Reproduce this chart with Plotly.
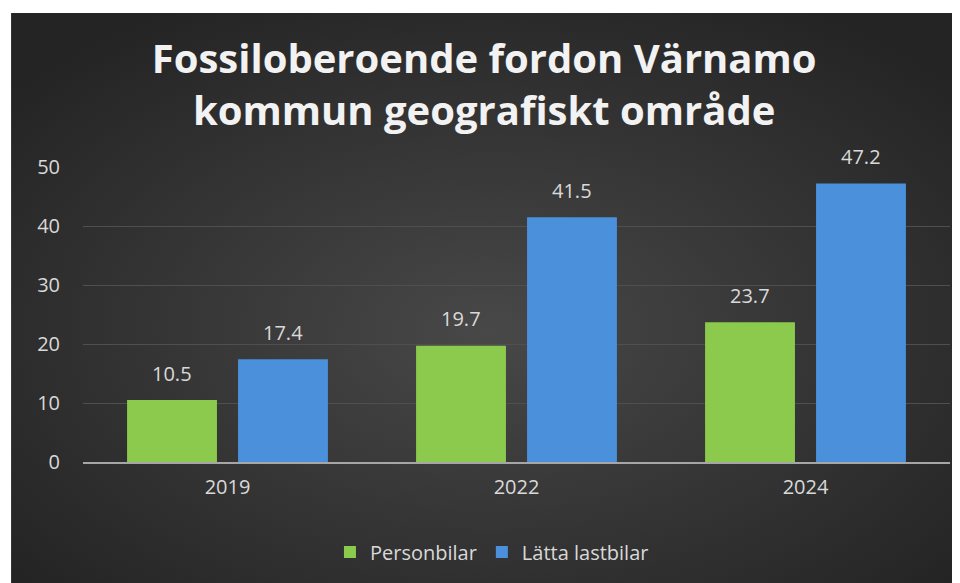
import base64
import plotly.graph_objects as go

years = ["2019", "2022", "2024"]
personbilar = [10.5, 19.7, 23.7]
latta_lastbilar = [17.4, 41.5, 47.2]
y_ticks = [0, 10, 20, 30, 40, 50]

TEXT = "#d9d9d9"
GREEN = "#8cca4e"
BLUE = "#4a90da"

# radial dark background, drawn as an svg image behind the chart
svg = (
    '<svg xmlns="http://www.w3.org/2000/svg" width="957" height="578" preserveAspectRatio="none">'
    '<defs><radialGradient id="g" cx="50%" cy="55%" r="65%">'
    '<stop offset="0" stop-color="#484848"/><stop offset="1" stop-color="#242424"/>'
    '</radialGradient></defs><rect width="957" height="578" fill="url(#g)"/></svg>'
)
bg_src = "data:image/svg+xml;base64," + base64.b64encode(svg.encode()).decode()

fig = go.Figure()
fig.add_trace(go.Bar(x=years, y=personbilar, name="Personbilar",
                     marker=dict(color=GREEN, line=dict(width=0))))
fig.add_trace(go.Bar(x=years, y=latta_lastbilar, name="Lätta lastbilar",
                     marker=dict(color=BLUE, line=dict(width=0))))

# value labels above the bars (category axis -> annotation x is the category index)
annotations = []
for vals, shift in ((personbilar, -55.5), (latta_lastbilar, 55.5)):
    for i, v in enumerate(vals):
        annotations.append(dict(
            x=i, y=v, text=f"{v}", showarrow=False, xshift=shift, yshift=27,
            yanchor="middle", font=dict(family="Open Sans", size=20, color=TEXT),
        ))

fig.update_layout(
    width=960, height=583,
    margin=dict(l=75, r=18, t=159, b=129, autoexpand=False),
    paper_bgcolor="white",
    plot_bgcolor="rgba(0,0,0,0)",
    font=dict(family="Open Sans", color=TEXT, size=20),
    title=dict(
        text="Fossiloberoende fordon Värnamo<br>kommun geografiskt område",
        x=0.496, xanchor="center", y=1 - 65 / 583, yanchor="top",
        font=dict(family="Open Sans", size=40, color="#f2f2f2", weight="bold"),
    ),
    barmode="group", bargap=0.232, bargroupgap=0.19,
    xaxis=dict(type="category", range=[-0.5, 2.5], showgrid=False, showline=True,
               linecolor="#a6a6a6", linewidth=2, ticks="", ticklabelstandoff=6,
               tickfont=dict(size=20, color=TEXT)),
    yaxis=dict(range=[0, 50], tickvals=y_ticks, showgrid=True, gridcolor="#4f4f4f",
               gridwidth=1, zeroline=False, ticks="", ticklabelstandoff=22,
               tickfont=dict(size=20, color=TEXT)),
    legend=dict(orientation="h", x=0.4717, xanchor="center", y=-0.305, yanchor="middle",
                font=dict(size=20, color=TEXT), bgcolor="rgba(0,0,0,0)",
                itemwidth=30, tracegroupgap=0),
    annotations=annotations,
    images=[dict(source=bg_src, xref="paper", yref="paper", x=-0.083, y=1.522,
                 sizex=1.104, sizey=1.959, sizing="stretch", xanchor="left",
                 yanchor="top", layer="below")],
    showlegend=True,
)

fig.write_html("out.html")
